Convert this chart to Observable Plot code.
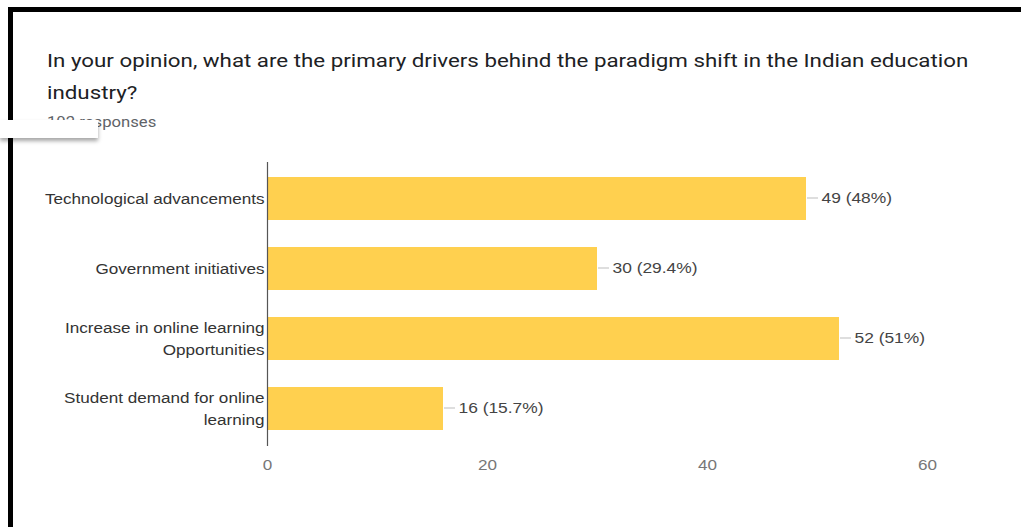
<!DOCTYPE html>
<html>
<head>
<meta charset="utf-8">
<script src="https://cdn.jsdelivr.net/npm/d3@7"></script>
<script src="https://cdn.jsdelivr.net/npm/@observablehq/plot@0.6"></script>
<style>
  html, body { margin: 0; padding: 0; background: #fff; width: 1021px; height: 527px; overflow: hidden; }
  #frame { position: absolute; left: 8px; top: 7px; width: 1030px; height: 540px; border-left: 5px solid #000; border-top: 5px solid #000; box-sizing: border-box; }
  #title { position: absolute; left: 47px; top: 45px; font-family: Roboto, "Liberation Sans", sans-serif; font-size: 18.6px; line-height: 32px; color: #202124; transform: scaleX(1.2); transform-origin: 0 0; white-space: nowrap; }
  #sub { position: absolute; left: 47px; top: 114px; font-family: Roboto, "Liberation Sans", sans-serif; font-size: 14px; color: #5f6368; transform: scaleX(1.19); transform-origin: 0 0; }
  #cover { position: absolute; left: 0; top: 120px; width: 98px; height: 18px; background: #fff; box-shadow: 0 3px 4px rgba(0,0,0,0.35); }
  #chart { position: absolute; left: 0; top: 150px; }
</style>
</head>
<body>
<div id="frame"></div>
<div id="title">In your opinion, what are the primary drivers behind the paradigm shift in the Indian education<br>industry?</div>
<div id="sub">102 responses</div>
<div id="cover"></div>
<div id="chart"></div>
<script>
const categories = ["Technological advancements", "Government initiatives", "Increase in online learning Opportunities", "Student demand for online learning"];
const categoryLabels = ["Technological advancements", "Government initiatives", "Increase in online learning\nOpportunities", "Student demand for online\nlearning"];
const counts = [49, 30, 52, 16];
const percents = ["48", "29.4", "51", "15.7"];
const xTicks = [0, 20, 40, 60];

const rows = categories.map((c, i) => ({category: c, count: counts[i], pct: percents[i]}));
const labelOf = new Map(categories.map((c, i) => [c, categoryLabels[i]]));

const chart = Plot.plot({
  width: 1000,
  height: 336,
  marginLeft: 267,
  marginRight: 73,
  marginTop: 12,
  marginBottom: 40,
  style: {fontFamily: '"Liberation Sans", Arial, sans-serif', fontSize: "14.5px", background: "transparent"},
  x: {domain: [0, 60], ticks: xTicks},
  y: {domain: categories, paddingInner: 0.386, paddingOuter: 0.21},
  marks: [
    Plot.barX(rows, {x: "count", y: "category", fill: "#ffd04f", dy: -1}),
    Plot.ruleY(rows, {y: "category", x1: "count", x2: "count", insetLeft: 1, insetRight: -12, stroke: "#bdbdbd", strokeWidth: 1, dy: -2}),
    Plot.text(rows, {y: "category", x: "count", dx: 15, dy: -2, textAnchor: "start", text: d => `${d.count} (${d.pct}%)`, fill: "#444", fontSize: 14.5, className: "vlabel"}),
    Plot.ruleX([0], {stroke: "#555", strokeWidth: 1.2}),
    Plot.axisX({ticks: xTicks, tickSize: 0, tickPadding: 13, color: "#777", fontSize: 14.5, label: null}),
    Plot.axisY({tickSize: 0, tickPadding: 3, dy: -3, tickFormat: d => labelOf.get(d), color: "#333", fontSize: 14.5, lineHeight: 1.55, label: null})
  ]
});
// reproduce the horizontally stretched lettering of the screenshot
d3.select(chart).selectAll("text").each(function() {
  const t = this.getAttribute("transform") || "";
  const inValue = this.closest(".vlabel") != null;
  this.setAttribute("transform", t + (inValue ? " scale(1.2,1)" : " scale(1.18,1)"));
});
document.getElementById("chart").appendChild(chart);
</script>
</body>
</html>
